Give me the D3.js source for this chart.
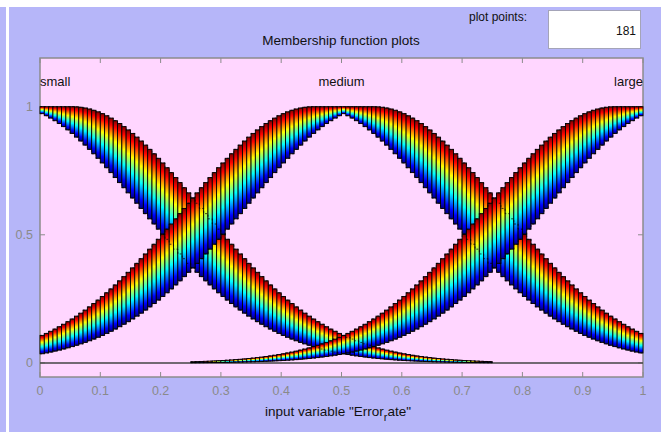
<!DOCTYPE html>
<html>
<head>
<meta charset="utf-8">
<script src="https://cdn.jsdelivr.net/npm/d3@7"></script>
<style>
  body { margin: 0; background: #b6b6f9; }
  svg text { font-family: 'Liberation Sans', Arial, sans-serif; }
</style>
</head>
<body>
<svg id="chart" width="661" height="432"></svg>
<script>
// membership functions: gaussian with uncertain mean [meanLo, meanHi]
const mfNames = ["small", "medium", "large"];
const meanLo = [-0.05, 0.45, 0.95];
const meanHi = [0.05, 0.55, 1.05];
const sigmas = [0.213, 0.213, 0.213];
const rangeLo = [0, 0, 0.25];
const rangeHi = [0.75, 1, 1];

const xTickValues = [0, 0.1, 0.2, 0.3, 0.4, 0.5, 0.6, 0.7, 0.8, 0.9, 1];
const xTickLabels = ["0", "0.1", "0.2", "0.3", "0.4", "0.5", "0.6", "0.7", "0.8", "0.9", "1"];
const yTickValues = [0, 0.5, 1];
const yTickLabels = ["0", "0.5", "1"];
const plotPoints = "181";
const nSteps = 140;

let svg = d3.select("#chart")

let padLeft = 40, padRight = 643, padTop = 58, padBottom = 377

let x = d3.scaleLinear().domain([0, 1]).range([padLeft, padRight])
let y = d3.scaleLinear().domain([-0.055, 1.19]).range([padBottom, padTop])

function gauss(v, m, s) { return Math.exp(-(v - m) * (v - m) / (2 * s * s)) }
function upperMF(v, k) {
    if (v < meanLo[k]) return gauss(v, meanLo[k], sigmas[k])
    if (v > meanHi[k]) return gauss(v, meanHi[k], sigmas[k])
    return 1
}
function lowerMF(v, k) {
    let mid = (meanLo[k] + meanHi[k]) / 2
    return v < mid ? gauss(v, meanHi[k], sigmas[k]) : gauss(v, meanLo[k], sigmas[k])
}

// jet colormap gradient, applied per bar
let defs = svg.append("defs")
let grad = defs.append("linearGradient").attr("id", "jet")
    .attr("x1", 0).attr("y1", 1).attr("x2", 0).attr("y2", 0)
let jetStops = [[0, "#000080"], [0.125, "#0000ff"], [0.375, "#00ffff"], [0.625, "#ffff00"], [0.875, "#ff0000"], [1, "#800000"]]
grad.selectAll("stop").data(jetStops).enter().append("stop")
    .attr("offset", d => d[0]).attr("stop-color", d => d[1])

// figure chrome
svg.append("rect").attr("x", 0).attr("y", 0).attr("width", 661).attr("height", 432).attr("fill", "#b6b6f9")
svg.append("rect").attr("x", 0).attr("y", 0).attr("width", 661).attr("height", 7).attr("fill", "#ffffff")
svg.append("rect").attr("x", 6).attr("y", 7).attr("width", 3).attr("height", 425).attr("fill", "#ffffff")

svg.append("text").attr("x", 527).attr("y", 21).attr("text-anchor", "end")
    .attr("font-size", 12).attr("fill", "#111").text("plot points:")
svg.append("rect").attr("x", 548.5).attr("y", 10.5).attr("width", 92).attr("height", 38)
    .attr("fill", "#fff").attr("stroke", "#a4a4b8")
svg.append("text").attr("x", 636).attr("y", 35).attr("text-anchor", "end")
    .attr("font-size", 12).attr("fill", "#111").text(plotPoints)

svg.append("text").attr("x", 341).attr("y", 45).attr("text-anchor", "middle")
    .attr("font-size", 13.5).attr("fill", "#111").text("Membership function plots")

// axes box
svg.append("rect").attr("x", padLeft).attr("y", padTop).attr("width", padRight - padLeft).attr("height", padBottom - padTop)
    .attr("fill", "#ffd6ff").attr("stroke", "#8c8c8c").attr("stroke-width", 1.5)

let tickLen = 5
svg.append("g").selectAll("line").data(xTickValues).enter().append("line")
    .attr("x1", d => x(d)).attr("x2", d => x(d)).attr("y1", padBottom).attr("y2", padBottom - tickLen)
    .attr("stroke", "#8c8c8c")
svg.append("g").selectAll("line").data(xTickValues).enter().append("line")
    .attr("x1", d => x(d)).attr("x2", d => x(d)).attr("y1", padTop).attr("y2", padTop + tickLen)
    .attr("stroke", "#8c8c8c")
svg.append("g").selectAll("line").data(yTickValues).enter().append("line")
    .attr("x1", padLeft).attr("x2", padLeft + tickLen).attr("y1", d => y(d)).attr("y2", d => y(d))
    .attr("stroke", "#8c8c8c")
svg.append("g").selectAll("line").data(yTickValues).enter().append("line")
    .attr("x1", padRight).attr("x2", padRight - tickLen).attr("y1", d => y(d)).attr("y2", d => y(d))
    .attr("stroke", "#8c8c8c")

svg.append("g").selectAll("text").data(xTickValues).enter().append("text")
    .attr("x", d => x(d)).attr("y", 395).attr("text-anchor", "middle")
    .attr("font-size", 12.5).attr("fill", "#8a8a8a")
    .text((d, i) => xTickLabels[i])
svg.append("g").selectAll("text").data(yTickValues).enter().append("text")
    .attr("x", 33).attr("y", d => y(d) + 4).attr("text-anchor", "end")
    .attr("font-size", 12.5).attr("fill", "#8a8a8a")
    .text((d, i) => yTickLabels[i])

// zero line
svg.append("line").attr("x1", x(0)).attr("x2", x(1)).attr("y1", y(0)).attr("y2", y(0))
    .attr("stroke", "#444").attr("stroke-width", 1.5)

// bars for each membership function
let bands = svg.append("g")
let allBars = []
mfNames.forEach(function(name, k) {
    let bars = []
    for (let i = 0; i < nSteps; i++) {
        let x0 = i / nSteps, x1 = (i + 1) / nSteps
        if (x0 < rangeLo[k] - 1e-9 || x1 > rangeHi[k] + 1e-9) continue
        bars.push({x0: x0, x1: x1, lo: lowerMF(x0, k), hi: upperMF(x0, k)})
    }
    bands.append("g").selectAll("rect").data(bars).enter().append("rect")
        .attr("x", d => x(d.x0)).attr("width", d => x(d.x1) - x(d.x0))
        .attr("y", d => y(d.hi)).attr("height", d => Math.max(0, y(d.lo) - y(d.hi)))
        .attr("fill", "url(#jet)").attr("stroke", "#000").attr("stroke-width", 0.9)
    allBars.push(bars)
})

// boundaries drawn dotted over every band
allBars.forEach(function(bars) {
    let line = d3.line().curve(d3.curveStepAfter)
    ;["lo", "hi"].forEach(function(key) {
        let pts = bars.map(d => [x(d.x0), y(d[key])])
        pts.push([x(bars[bars.length - 1].x1), y(bars[bars.length - 1][key])])
        svg.append("path").attr("d", line(pts)).attr("fill", "none")
            .attr("stroke", "#000").attr("stroke-width", 1).attr("stroke-dasharray", "2,2")
            .attr("opacity", 0.7)
    })
})

// mf labels
svg.append("text").attr("x", padLeft).attr("y", 86).attr("font-size", 13).attr("fill", "#111").text(mfNames[0])
svg.append("text").attr("x", x(0.5)).attr("y", 86).attr("text-anchor", "middle").attr("font-size", 13).attr("fill", "#111").text(mfNames[1])
svg.append("text").attr("x", padRight).attr("y", 86).attr("text-anchor", "end").attr("font-size", 13).attr("fill", "#111").text(mfNames[2])

// x label with TeX-style subscript
let xl = svg.append("text").attr("x", 338).attr("y", 416).attr("text-anchor", "middle")
    .attr("font-size", 13.5).attr("fill", "#111")
xl.append("tspan").text('input variable "Error')
xl.append("tspan").attr("dy", 5).attr("font-size", 11).text("r")
xl.append("tspan").attr("dy", -5).text('ate"')
</script>
</body>
</html>
